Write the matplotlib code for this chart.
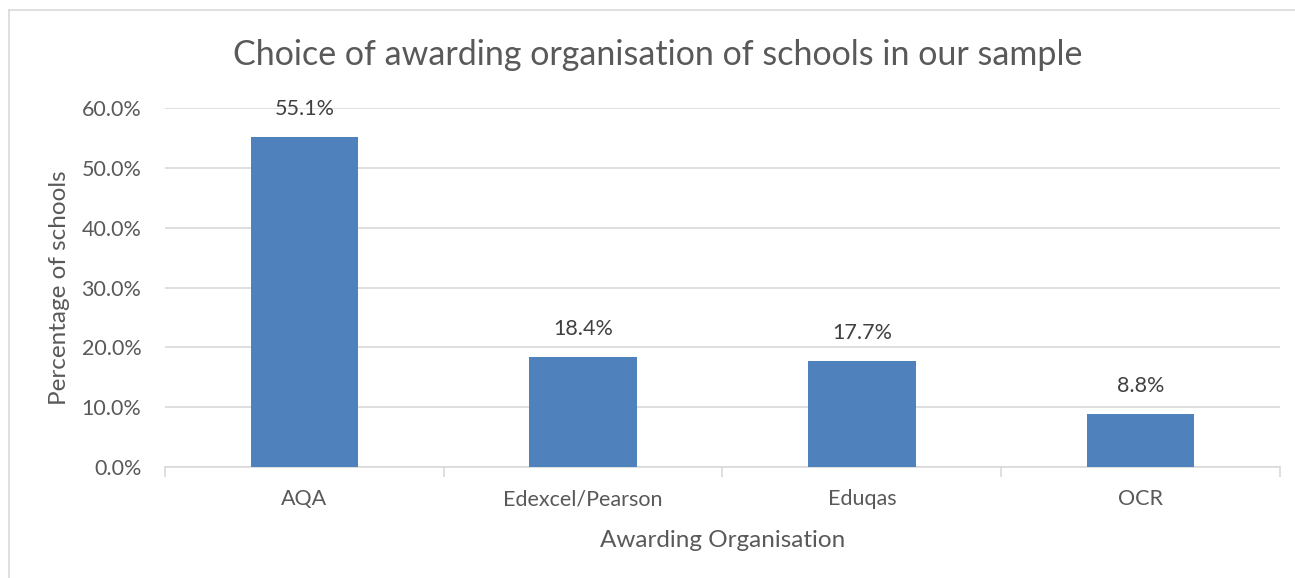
import numpy as np
import matplotlib.pyplot as plt
from matplotlib.lines import Line2D

categories = ["AQA", "Edexcel/Pearson", "Eduqas", "OCR"]
shares = [55.1, 18.4, 17.7, 8.8]
yticks = [0, 10, 20, 30, 40, 50, 60]

plt.rcParams["font.family"] = ["Lato", "DejaVu Sans"]
grey_txt = "#595959"
grid_col = "#d9d9d9"

fig = plt.figure(figsize=(12.95, 5.78), dpi=100)
W, H = 1295, 578
ax = fig.add_axes([165 / W, 1 - 467 / H, (1280 - 165) / W, (467 - 108) / H])

x = np.arange(len(categories))
bars = ax.bar(x, shares, width=0.385, color="#4f81bd", zorder=3)
for b, v in zip(bars, shares):
    ax.text(b.get_x() + b.get_width() / 2, v + 3.0, f"{v:.1f}%",
            ha="center", va="bottom", fontsize=15.5, color="#404040")

ax.set_xlim(-0.5, len(categories) - 0.5)
ax.set_ylim(0, 60)
ax.set_yticks(yticks)
ax.set_yticklabels([f"{t:.1f}%" for t in yticks], fontsize=15.5, color=grey_txt)
ax.yaxis.grid(True, color=grid_col, linewidth=1.2, zorder=0)
ax.tick_params(axis="y", length=0, pad=17)

ax.set_xticks(x)
ax.set_xticklabels(categories, fontsize=15.5, color=grey_txt)
ax.set_xticks(np.arange(-0.5, len(categories)), minor=True)
ax.tick_params(axis="x", which="major", length=0, pad=16)
ax.tick_params(axis="x", which="minor", length=7, color=grid_col, width=1.2)

for s in ["top", "right", "left"]:
    ax.spines[s].set_visible(False)
ax.spines["bottom"].set_color(grid_col)
ax.spines["bottom"].set_linewidth(1.2)

ax.set_ylabel("Percentage of schools", fontsize=17.5, color=grey_txt, labelpad=8)
ax.set_xlabel("Awarding Organisation", fontsize=17.5, color=grey_txt, labelpad=15)

fig.text(658 / W, 1 - 55 / H, "Choice of awarding organisation of schools in our sample",
         ha="center", va="center", fontsize=24.5, color=grey_txt)

# outer chart border (left and top edges visible)
fig.add_artist(Line2D([9 / W, 9 / W], [0, 1 - 10 / H], color=grid_col, linewidth=1.2))
fig.add_artist(Line2D([9 / W, 1], [1 - 10 / H, 1 - 10 / H], color=grid_col, linewidth=1.2))

fig.savefig("out.png", dpi=100)
